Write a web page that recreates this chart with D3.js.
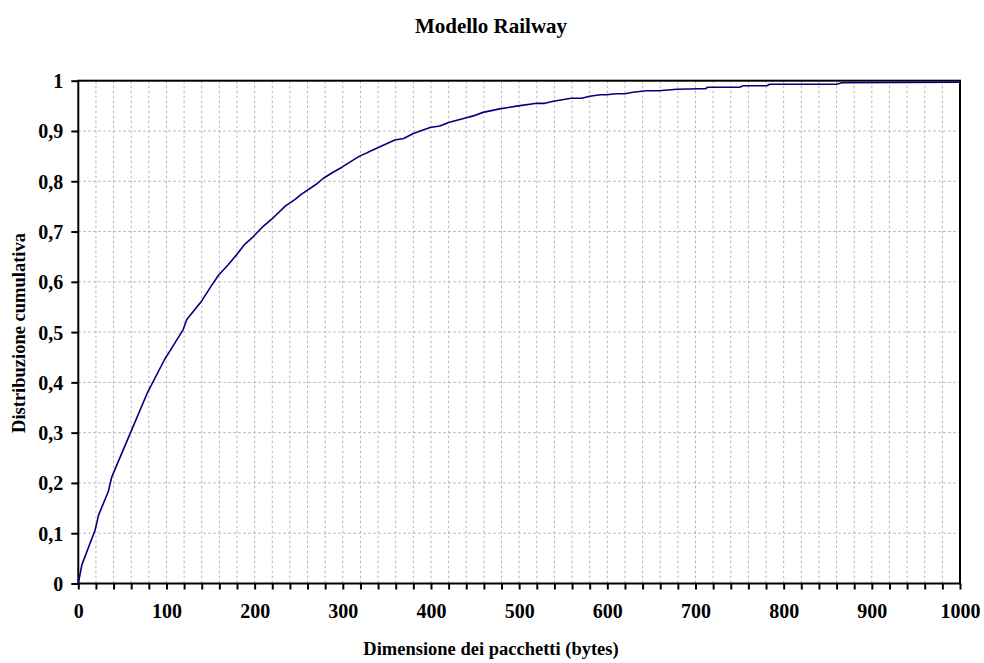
<!DOCTYPE html>
<html>
<head>
<meta charset="utf-8">
<script src="https://cdn.jsdelivr.net/npm/d3@7"></script>
<style>
  html, body { margin: 0; padding: 0; background: #fff; }
  svg text { font-family: "Liberation Serif", "Times New Roman", serif; font-weight: bold; fill: #000; }
</style>
</head>
<body>
<script>
// Cumulative distribution of packet sizes (bytes)
const packetSizes = [0, 4, 19, 23, 34, 38, 59, 78, 98, 108, 119, 123, 140, 149, 159, 170, 180, 189, 198, 210, 219, 235, 246, 252, 269, 278, 288, 299, 318, 339, 359, 369, 380, 399, 410, 420, 439, 448, 459, 478, 499, 520, 529, 539, 559, 571, 580, 592, 599, 610, 620, 629, 644, 658, 679, 705, 711, 714, 750, 754, 781, 784, 860, 866, 1000];
const cumulative  = [0, 0.037, 0.106, 0.136, 0.183, 0.212, 0.299, 0.378, 0.446, 0.474, 0.505, 0.525, 0.562, 0.587, 0.613, 0.634, 0.655, 0.675, 0.689, 0.711, 0.724, 0.751, 0.764, 0.773, 0.793, 0.806, 0.817, 0.828, 0.849, 0.866, 0.882, 0.885, 0.895, 0.907, 0.910, 0.917, 0.926, 0.930, 0.937, 0.944, 0.950, 0.955, 0.955, 0.959, 0.965, 0.965, 0.969, 0.972, 0.972, 0.974, 0.974, 0.977, 0.980, 0.980, 0.983, 0.984, 0.984, 0.987, 0.987, 0.990, 0.990, 0.993, 0.993, 0.996, 0.997];
const xTickLabels = [0, 100, 200, 300, 400, 500, 600, 700, 800, 900, 1000];
const yTickLabels = [0, 0.1, 0.2, 0.3, 0.4, 0.5, 0.6, 0.7, 0.8, 0.9, 1];

const W = 984, H = 663;
const m = { left: 78.3, right: 960, top: 80.7, bottom: 583.5 };
const tickFont = 20, axisTitleFont = 18.5, chartTitleFont = 21;

const svg = d3.select("body").append("svg").attr("width", W).attr("height", H);

const x = d3.scaleLinear().domain([0, 1000]).range([m.left, m.right]);
const y = d3.scaleLinear().domain([0, 1]).range([m.bottom, m.top]);

const fmt = v => String(+v.toFixed(1)).replace(".", ",");

// dashed gridlines: every 20 bytes and every 0.1
const grid = svg.append("g");
grid.selectAll("line.v").data(d3.range(20, 1000, 20)).join("line")
  .attr("x1", d => x(d)).attr("x2", d => x(d))
  .attr("y1", m.top).attr("y2", m.bottom)
  .attr("stroke", "#b4b4b4").attr("stroke-width", 1).attr("stroke-dasharray", "2.5,2.5");
grid.selectAll("line.h").data(yTickLabels.slice(1, -1)).join("line")
  .attr("x1", m.left).attr("x2", m.right)
  .attr("y1", d => y(d)).attr("y2", d => y(d))
  .attr("stroke", "#b4b4b4").attr("stroke-width", 1).attr("stroke-dasharray", "2.5,2.5");

// plot frame
svg.append("rect").attr("x", m.left).attr("y", m.top)
  .attr("width", m.right - m.left).attr("height", m.bottom - m.top)
  .attr("fill", "none").attr("stroke", "#000").attr("stroke-width", 2);

// x axis: ticks every 20, labels every 100
const xAxis = d3.axisBottom(x).tickValues(d3.range(0, 1001, 20)).tickSize(6).tickPadding(4)
  .tickFormat(d => (xTickLabels.includes(d) ? d : ""));
const gx = svg.append("g").attr("transform", `translate(0,${m.bottom})`).call(xAxis);
gx.select(".domain").remove();
gx.selectAll(".tick line").attr("stroke", "#000").attr("stroke-width", 2);
gx.selectAll(".tick text").attr("font-size", tickFont).attr("dy", "1.2em");

// y axis
const yAxis = d3.axisLeft(y).tickValues(yTickLabels).tickSize(7).tickPadding(8).tickFormat(fmt);
const gy = svg.append("g").attr("transform", `translate(${m.left},0)`).call(yAxis);
gy.select(".domain").remove();
gy.selectAll(".tick line").attr("stroke", "#000").attr("stroke-width", 2);
gy.selectAll(".tick text").attr("font-size", tickFont).attr("dy", "0.35em");

// cumulative curve
const line = d3.line().x((d, i) => x(packetSizes[i])).y(d => y(d));
svg.append("path").datum(cumulative)
  .attr("d", line).attr("fill", "none")
  .attr("stroke", "#000080").attr("stroke-width", 1.6).attr("stroke-linejoin", "round");

// titles
svg.append("text").attr("x", 491).attr("y", 33).attr("text-anchor", "middle")
  .attr("font-size", chartTitleFont).text("Modello Railway");
svg.append("text").attr("x", 491).attr("y", 655).attr("text-anchor", "middle")
  .attr("font-size", axisTitleFont).text("Dimensione dei pacchetti (bytes)");
svg.append("text").attr("transform", "translate(25,333) rotate(-90)").attr("text-anchor", "middle")
  .attr("font-size", axisTitleFont).text("Distribuzione cumulativa");
</script>
</body>
</html>
